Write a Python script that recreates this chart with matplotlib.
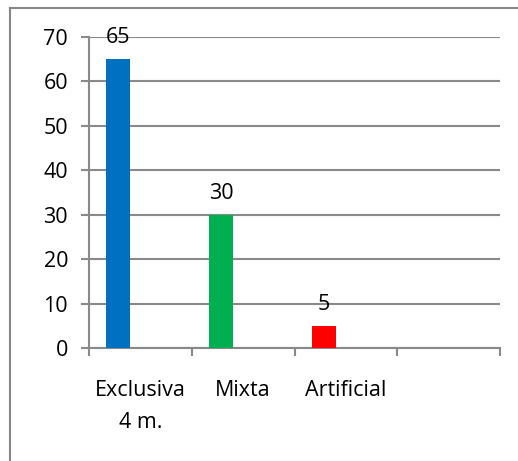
import matplotlib.pyplot as plt
from matplotlib.lines import Line2D
import numpy as np

# Feeding type counts
categories = ['Exclusiva\n4 m.', 'Mixta', 'Artificial', '']
values = [65, 30, 5]
colors = ['#0070C0', '#00B050', '#FF0000']

plt.rcParams['font.family'] = ['Open Sans', 'DejaVu Sans']

fig = plt.figure(figsize=(5.18, 4.61), dpi=100)
ax = fig.add_axes([0.1718, 0.2451, 0.7935, 0.6746])

# Bars sit a bit left of the category centre
x = np.arange(len(values))
bars = ax.bar(x - 0.215, values, width=0.23, color=colors, zorder=3)
for bar, v in zip(bars, values):
    ax.annotate(str(v), (bar.get_x() + bar.get_width() / 2, v),
                xytext=(0, 8), textcoords='offset points',
                ha='center', va='bottom', fontsize=15.5, color='#000000')

grid_color = '#898989'
ax.set_xlim(-0.5, len(categories) - 0.5)
ax.set_ylim(0, 70)
ax.set_yticks(range(0, 71, 10))
ax.yaxis.grid(True, color=grid_color, linewidth=1.5, zorder=0)

# Category labels in the middle, tick marks on the boundaries
ax.set_xticks(x.tolist() + [3])
ax.set_xticklabels(categories, linespacing=1.7)
ax.set_xticks(np.arange(len(categories) + 1) - 0.5, minor=True)
ax.tick_params(axis='x', which='major', length=0, pad=23, labelsize=15.5)
ax.tick_params(axis='x', which='minor', length=6, width=1.5, color=grid_color)
ax.tick_params(axis='y', length=6, width=1.5, color=grid_color, labelsize=15.5, pad=9)

for side in ['top', 'right']:
    ax.spines[side].set_visible(False)
for side in ['left', 'bottom']:
    ax.spines[side].set_color(grid_color)
    ax.spines[side].set_linewidth(1.5)

# Chart area frame (only top and left edges fall inside the image)
fx = 10 / 518
fy = 1 - 8 / 461
fig.add_artist(Line2D([fx, fx], [0, fy], color='#868686', linewidth=1.5))
fig.add_artist(Line2D([fx, 1], [fy, fy], color='#868686', linewidth=1.5))

plt.savefig('out.png', dpi=100)
